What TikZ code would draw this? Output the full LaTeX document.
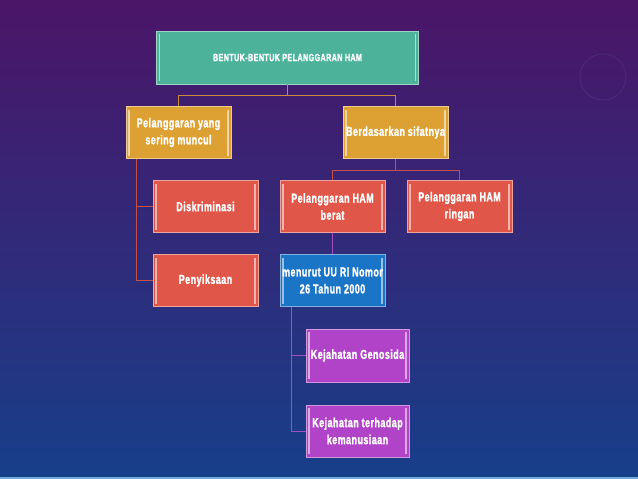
\documentclass[tikz,border=0pt]{standalone}
\usepackage{fontspec}
\newfontfamily\boxfont[FakeStretch=0.68, LetterSpace=4, BoldFeatures={FakeBold=1.6}]{Liberation Sans}

\definecolor{bgtop}{HTML}{4B1568}
\definecolor{bgmid}{HTML}{2E2A78}
\definecolor{bgbot}{HTML}{173F8A}
\definecolor{teal}{HTML}{4CB39A}
\definecolor{amber}{HTML}{DDA032}
\definecolor{tomato}{HTML}{E0574A}
\definecolor{ocean}{HTML}{1B75C6}
\definecolor{orchid}{HTML}{B043C8}
\definecolor{linkA}{HTML}{C98A3C}
\definecolor{linkB}{HTML}{C4504C}
\definecolor{linkC}{HTML}{A050C2}

\begin{document}
\begin{tikzpicture}[x=1pt,y=-1pt,
  box/.style={draw=#1!55!white, line width=0.8pt, fill=#1, text=white,
    minimum width=105pt, minimum height=52pt, inner sep=0pt, align=center,
    font=\boxfont\bfseries\fontsize{13}{17}\selectfont,
    path picture={
      \draw[#1!45!white, line width=1.3pt]
        ([xshift=3pt,yshift=-3pt]path picture bounding box.north west) --
        ([xshift=3pt,yshift=3pt]path picture bounding box.south west);
      \draw[#1!45!white, line width=1.3pt]
        ([xshift=-3pt,yshift=-3pt]path picture bounding box.north east) --
        ([xshift=-3pt,yshift=3pt]path picture bounding box.south east);}},
  link/.style={draw=#1, line width=0.9pt}]
  \useasboundingbox (0,0) rectangle (638,479);
  \shade[top color=bgtop, middle color=bgmid, bottom color=bgbot] (0,0) rectangle (638,479);
  \draw[white, opacity=0.08, line width=0.6pt] (603,77) circle (23);
  \draw[ocean!60!white, line width=2pt] (0,477.5) -- (638,477.5);

  \node[box=teal, minimum width=262pt, minimum height=53pt,
    font=\boxfont\bfseries\fontsize{10.5}{12}\selectfont] (bentuk) at (287.5,57.5) {BENTUK-BENTUK PELANGGARAN HAM};
  \node[box=amber] (muncul) at (178.5,132.5) {Pelanggaran yang\\sering muncul};
  \node[box=amber] (sifat) at (395.5,132.5) {Berdasarkan sifatnya};
  \node[box=tomato] (diskrim) at (205.5,206.5) {Diskriminasi};
  \node[box=tomato] (siksa) at (205.5,280.5) {Penyiksaan};
  \node[box=tomato] (berat) at (332.5,206.5) {Pelanggaran HAM\\berat};
  \node[box=tomato] (ringan) at (459.5,206.5) {Pelanggaran HAM\\ringan};
  \node[box=ocean] (uu) at (332.5,280.5) {menurut UU RI Nomor\\26 Tahun 2000};
  \node[box=orchid, minimum width=103pt, minimum height=53pt] (genosida) at (357.5,355.5) {Kejahatan Genosida};
  \node[box=orchid, minimum width=103pt] (manusia) at (357.5,431) {Kejahatan terhadap\\kemanusiaan};

  \draw[link=linkA] (bentuk.south) -- ++(0,11.5) -| (muncul.north);
  \draw[link=linkA] (bentuk.south) -- ++(0,11.5) -| (sifat.north);
  \draw[link=linkB] ([xshift=11pt]muncul.south west) |- (diskrim.west);
  \draw[link=linkB] ([xshift=11pt]muncul.south west) |- (siksa.west);
  \draw[link=linkB] (sifat.south) -- ++(0,12) -| (berat.north);
  \draw[link=linkB] (sifat.south) -- ++(0,12) -| (ringan.north);
  \draw[link=linkC] (berat.south) -- (uu.north);
  \draw[link=linkC] ([xshift=12pt]uu.south west) |- (genosida.west);
  \draw[link=linkC] ([xshift=12pt]uu.south west) |- (manusia.west);
\end{tikzpicture}
\end{document}
